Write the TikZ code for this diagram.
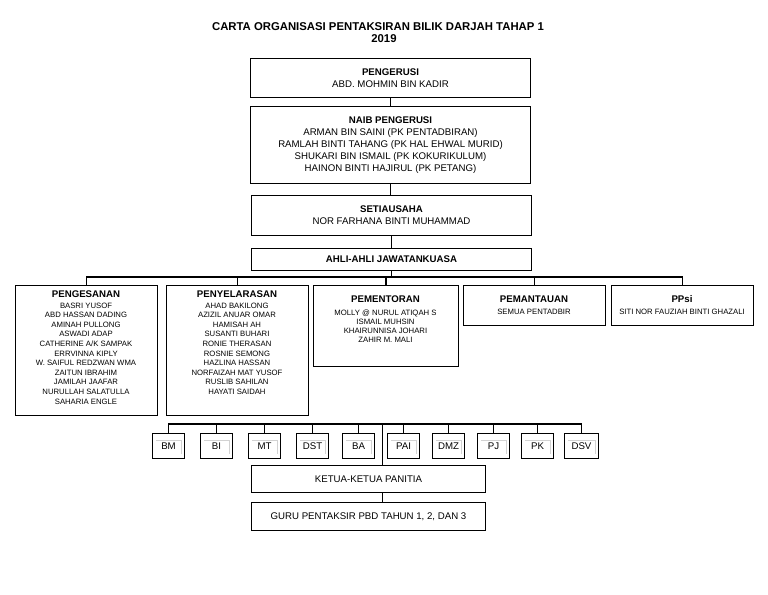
\documentclass[tikz,border=0pt]{standalone}
\usepackage{fontspec}
\setmainfont{Liberation Sans}
\newcommand{\mytitle}{\fontsize{8.5}{9}\selectfont\bfseries}
\newcommand{\myhd}{\fontsize{7.25}{9}\selectfont\bfseries}
\newcommand{\mybody}{\fontsize{7.25}{9}\selectfont}
\newcommand{\mysmall}{\fontsize{5.8}{7.2}\selectfont}
\newcommand{\mysmallb}{\fontsize{5.8}{6.75}\selectfont}
\begin{document}
\begin{tikzpicture}[x=0.75pt,y=-0.75pt,
  box/.style={draw, line width=0.75pt, inner sep=0pt, anchor=north west, align=center, font=\mybody},
  sz/.style 2 args={minimum width=#1*0.75pt, minimum height=#2*0.75pt},
  hdr/.style={inner sep=0pt, anchor=base, font=\myhd},
  lst/.style={inner sep=0pt, anchor=north, align=center, font=\mysmall},
  lstb/.style={inner sep=0pt, anchor=north, align=center, font=\mysmallb},
  conn/.style={line width=1.3pt},
  connthin/.style={line width=0.75pt},
  subj/.style={box, sz={32}{25}},
  innerframe/.style={gray!35, line width=0.5pt}]
\fill[white] (0,0) rectangle (768,594);
\useasboundingbox (0,0) rectangle (768,594);

% title
\node[font=\mytitle, inner sep=0pt] (title) at (378,27) {CARTA ORGANISASI PENTAKSIRAN BILIK DARJAH TAHAP 1};
\node[font=\mytitle, inner sep=0pt] (year) at (384,39) {2019};

% top boxes
\node[box, sz={280}{39}] (peng) at (250,58) {{\myhd PENGERUSI}\\ABD. MOHMIN BIN KADIR};
\node[box, sz={280}{77}] (naib) at (250,106) {{\myhd NAIB PENGERUSI}\\ARMAN BIN SAINI (PK PENTADBIRAN)\\RAMLAH BINTI TAHANG (PK HAL EHWAL MURID)\\SHUKARI BIN ISMAIL (PK KOKURIKULUM)\\HAINON BINTI HAJIRUL (PK PETANG)};
\node[box, sz={280}{40}] (setia) at (251,195) {{\myhd SETIAUSAHA}\\NOR FARHANA BINTI MUHAMMAD};
\node[box, sz={280}{22}, font=\myhd] (ahli) at (251,248) {AHLI-AHLI JAWATANKUASA};

\draw[connthin] (peng.south) -- (peng.south |- naib.north);
\draw[conn] (naib.south) -- (naib.south |- setia.north);
\draw[conn] (setia.south) -- (setia.south |- ahli.north);

% second row boxes
\node[box, sz={142}{130}] (pgs) at (15,285) {};
\node[box, sz={142}{130}] (pny) at (166,285) {};
\node[box, sz={145}{81}] (pmt) at (313,285) {};
\node[box, sz={142}{40}] (pmn) at (463,285) {};
\node[box, sz={142}{40}] (ppsi) at (611,285) {};

\node[hdr] (pgsH) at (86,297.5) {PENGESANAN};
\node[lst] (pgsL) at (86,302.5) {BASRI YUSOF\\ABD HASSAN DADING\\AMINAH PULLONG\\ASWADI ADAP\\CATHERINE A/K SAMPAK\\ERRVINNA KIPLY\\W. SAIFUL REDZWAN WMA\\ZAITUN IBRAHIM\\JAMILAH JAAFAR\\NURULLAH SALATULLA\\SAHARIA ENGLE};
\node[hdr] (pnyH) at (237,297.5) {PENYELARASAN};
\node[lst] (pnyL) at (237,302.5) {AHAD BAKILONG\\AZIZIL ANUAR OMAR\\HAMISAH AH\\SUSANTI BUHARI\\RONIE THERASAN\\ROSNIE SEMONG\\HAZLINA HASSAN\\NORFAIZAH MAT YUSOF\\RUSLIB SAHILAN\\HAYATI SAIDAH};
\node[hdr] (pmtH) at (385.5,302.5) {PEMENTORAN};
\node[lstb] (pmtL) at (385.5,310) {MOLLY @ NURUL ATIQAH S\\ISMAIL MUHSIN\\KHAIRUNNISA JOHARI\\ZAHIR M. MALI};
\node[hdr] (pmnH) at (534,302.5) {PEMANTAUAN};
\node[lstb] (pmnL) at (534,309) {SEMUA PENTADBIR};
\node[hdr] (ppsiH) at (682,302.5) {PPsi};
\node[lstb] (ppsiL) at (682,309) {SITI NOR FAUZIAH BINTI GHAZALI};

\coordinate (bus1) at (0,277);
\draw[conn] (ahli.south) -- (ahli.south |- bus1);
\draw[conn] (pgs.north) -- (pgs.north |- bus1) -- (ppsi.north |- bus1) -- (ppsi.north);
\foreach \n in {pny,pmt,pmn} \draw[conn] (\n.north) -- (\n.north |- bus1);

% subject boxes
\node[subj] (bm) at (152,433) {BM};
\node[subj] (bi) at (200,433) {BI};
\node[subj] (mt) at (248,433) {MT};
\node[subj] (dst) at (296,433) {DST};
\node[subj] (ba) at (342,433) {BA};
\node[subj] (pai) at (387,433) {PAI};
\node[subj] (dmz) at (432,433) {DMZ};
\node[subj] (pj) at (477,433) {PJ};
\node[subj] (pk) at (521,433) {PK};
\node[subj, sz={34}{25}] (dsv) at (564,433) {DSV};
\foreach \n in {bm,bi,mt,dst,ba,pai,dmz,pj,pk,dsv}
  \draw[innerframe] ([shift={(4,7)}]\n.north west) -- ([shift={(-4,7)}]\n.north east) -- ([shift={(-4,-5)}]\n.south east);

\coordinate (bus2) at (0,424);
\draw[conn] (bm.north) -- (bm.north |- bus2) -- (dsv.north |- bus2) -- (dsv.north);
\foreach \n in {bi,mt,dst,ba,pai,dmz,pj,pk} \draw[connthin] (\n.north) -- (\n.north |- bus2);

% bottom boxes
\node[box, sz={234}{27}] (ketua) at (251,465) {KETUA-KETUA PANITIA};
\node[box, sz={234}{28}] (guru) at (251,502) {GURU PENTAKSIR PBD TAHUN 1, 2, DAN 3};
\coordinate (tap) at (382,424);
\draw[connthin] (tap) -- (tap |- ketua.north);
\draw[connthin] (ketua.south -| tap) -- (guru.north -| tap);
\end{tikzpicture}
\end{document}
